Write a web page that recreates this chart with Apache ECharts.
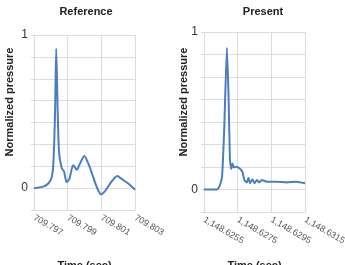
<!DOCTYPE html>
<html>
<head>
<meta charset="utf-8">
<script src="https://cdn.jsdelivr.net/npm/echarts@6/dist/echarts.min.js"></script>
<style>
html,body{margin:0;padding:0;background:#fff;}
#c{width:345px;height:265px;}
</style>
</head>
<body>
<div id="c"></div>
<script>
// Panel titles and axis titles
const panelTitles = ["Reference", "Present"];
const yTitle = "Normalized pressure";
const xTitle = "Time (sec)";

// Reference panel (time in sec, normalized pressure)
const refTime = [709.797, 709.79755, 709.79785, 709.79805, 709.79815, 709.79825, 709.79832, 709.79841, 709.79849, 709.79865, 709.79878, 709.79894, 709.79910, 709.79933, 709.79954, 709.79973, 709.79999, 709.80023, 709.80043, 709.80072, 709.80098, 709.80122, 709.80152, 709.80195, 709.80221, 709.80260, 709.80300];
const refPressure = [0.00, 0.01, 0.03, 0.07, 0.16, 0.49, 0.91, 0.49, 0.23, 0.13, 0.11, 0.04, 0.06, 0.15, 0.12, 0.16, 0.21, 0.16, 0.10, 0.01, -0.04, -0.02, 0.03, 0.08, 0.06, 0.03, -0.01];

// Present panel
const presTime = [1148.6255, 1148.62627, 1148.62642, 1148.62657, 1148.62670, 1148.62686, 1148.62696, 1148.62704, 1148.62712, 1148.62719, 1148.62728, 1148.62745, 1148.62765, 1148.62779, 1148.62790, 1148.62805, 1148.62814, 1148.62824, 1148.62838, 1148.62850, 1148.62864, 1148.62878, 1148.62894, 1148.62923, 1148.62982, 1148.63042, 1148.63101, 1148.6315];
const presPressure = [0.00, 0.00, 0.02, 0.08, 0.38, 0.90, 0.59, 0.19, 0.13, 0.165, 0.14, 0.145, 0.13, 0.11, 0.06, 0.045, 0.075, 0.04, 0.065, 0.04, 0.06, 0.045, 0.06, 0.05, 0.05, 0.045, 0.05, 0.04];

// Axis ranges
const refX = {min: 709.797, max: 709.803, step: 0.002, dec: 3};
const presX = {min: 1148.6255, max: 1148.6315, step: 0.002, dec: 4};
const yRange = {min: -1/7, max: 1, step: 1/7};

function pairs(xs, ys){ return xs.map((x,i)=>[x, ys[i]]); }
function fmtNum(v, dec){
  const s = v.toFixed(dec).split('.');
  s[0] = s[0].replace(/\B(?=(\d{3})+(?!\d))/g, ',');
  return s.join('.');
}
const lineColor = '#4a7ebf';
const gridColor = '#dcdcdc';

const grids = [
  {left: 34, top: 35, width: 101, height: 175, containLabel: false, outerBoundsMode: 'none'},
  {left: 204, top: 32, width: 101, height: 180, containLabel: false, outerBoundsMode: 'none'}
];
function xAxisFor(i, r){
  return {
    type: 'value', gridIndex: i, min: r.min, max: r.max, interval: r.step,
    name: xTitle, nameLocation: 'middle', nameGap: i === 0 ? 50 : 48,
    nameTextStyle: {fontFamily: 'Liberation Sans', fontWeight: 'bold', fontSize: 11, color: '#222', verticalAlign: 'top'},
    axisLine: {show: true, lineStyle: {color: gridColor}},
    axisTick: {show: false},
    splitLine: {show: true, lineStyle: {color: gridColor}},
    axisLabel: {rotate: -30, margin: 7, fontSize: 9, color: '#555', fontFamily: 'Liberation Sans',
      formatter: v => fmtNum(v, r.dec)}
  };
}
function yAxisFor(i){
  return {
    type: 'value', gridIndex: i, min: yRange.min, max: yRange.max, interval: yRange.step,
    axisLine: {show: true, lineStyle: {color: gridColor}},
    axisTick: {show: true, length: 3, lineStyle: {color: gridColor}},
    splitLine: {show: true, lineStyle: {color: gridColor}},
    axisLabel: {margin: 6, fontSize: 12, color: '#333', fontFamily: 'Liberation Sans',
      formatter: v => Math.abs(v) < 1e-6 ? '0' : (Math.abs(v - 1) < 1e-6 ? '1' : '')}
  };
}

const chart = echarts.init(document.getElementById('c'));
chart.setOption({
  animation: false,
  backgroundColor: '#fff',
  title: [
    {text: panelTitles[0], left: 81, top: 1, textAlign: 'center', textStyle: {fontFamily: 'Liberation Sans', fontWeight: 'bold', fontSize: 11, color: '#222'}},
    {text: panelTitles[1], left: 258, top: 1, textAlign: 'center', textStyle: {fontFamily: 'Liberation Sans', fontWeight: 'bold', fontSize: 11, color: '#222'}}
  ],
  grid: grids,
  xAxis: [xAxisFor(0, refX), xAxisFor(1, presX)],
  yAxis: [yAxisFor(0), yAxisFor(1)],
  graphic: [
    {type: 'text', x: 10, y: 102, rotation: Math.PI/2,
      style: {text: yTitle, fontFamily: 'Liberation Sans', fontWeight: 'bold', fontSize: 11, fill: '#222', align: 'center', verticalAlign: 'middle'}},
    {type: 'text', x: 184, y: 102, rotation: Math.PI/2,
      style: {text: yTitle, fontFamily: 'Liberation Sans', fontWeight: 'bold', fontSize: 11, fill: '#222', align: 'center', verticalAlign: 'middle'}}
  ],
  series: [
    {type: 'line', xAxisIndex: 0, yAxisIndex: 0, data: pairs(refTime, refPressure), showSymbol: false, smooth: 0.25,
      lineStyle: {color: lineColor, width: 2}},
    {type: 'line', xAxisIndex: 1, yAxisIndex: 1, data: pairs(presTime, presPressure), showSymbol: false, smooth: 0.15,
      lineStyle: {color: lineColor, width: 2}}
  ]
});
</script>
</body>
</html>
